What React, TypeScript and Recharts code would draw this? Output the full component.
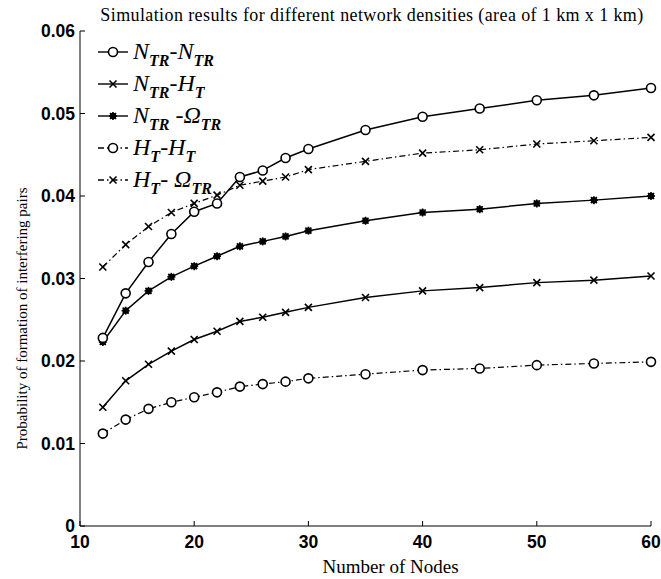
import React from "react";
import { Line, LineChart, XAxis, YAxis } from "recharts";

const nodes = [12, 14, 16, 18, 20, 22, 24, 26, 28, 30, 35, 40, 45, 50, 55, 60];
const ntrNtr = [0.0228, 0.0282, 0.032, 0.0354, 0.0381, 0.0391, 0.0423, 0.0431, 0.0446, 0.0457, 0.048, 0.0496, 0.0506, 0.0516, 0.0522, 0.0531];
const ntrHt = [0.0144, 0.0176, 0.0196, 0.0212, 0.0226, 0.0236, 0.0248, 0.0253, 0.0259, 0.0265, 0.0277, 0.0285, 0.0289, 0.0295, 0.0298, 0.0303];
const ntrOtr = [0.0223, 0.0261, 0.0285, 0.0302, 0.0315, 0.0327, 0.0339, 0.0345, 0.0351, 0.0358, 0.037, 0.038, 0.0384, 0.0391, 0.0395, 0.04];
const htHt = [0.0112, 0.0129, 0.0142, 0.015, 0.0156, 0.0162, 0.0169, 0.0172, 0.0175, 0.0179, 0.0184, 0.0189, 0.0191, 0.0195, 0.0197, 0.0199];
const htOtr = [0.0314, 0.0341, 0.0363, 0.038, 0.0391, 0.0401, 0.0413, 0.0418, 0.0423, 0.0432, 0.0442, 0.0452, 0.0456, 0.0463, 0.0467, 0.0471];

const xTicks = [10, 20, 30, 40, 50, 60];
const yTicks = [0, 0.01, 0.02, 0.03, 0.04, 0.05, 0.06];

const data = nodes.map((n, i) => ({
  n,
  nn: ntrNtr[i],
  nh: ntrHt[i],
  no: ntrOtr[i],
  hh: htHt[i],
  ho: htOtr[i],
}));

const SERIF = '"Liberation Serif", "Times New Roman", serif';
const TICK = { fontFamily: '"Liberation Sans", Arial, sans-serif', fontSize: 17.5, fontWeight: 700, fill: "#000" };
const DASHDOT = "6 3 1.5 3";

const Circle = ({ cx, cy }: any) => <circle cx={cx} cy={cy} r={4.5} fill="#fff" stroke="#000" strokeWidth={1.6} />;
const Cross = ({ cx, cy }: any) => (
  <g stroke="#000" strokeWidth={1.6}>
    <line x1={cx - 3.5} y1={cy - 3.5} x2={cx + 3.5} y2={cy + 3.5} />
    <line x1={cx - 3.5} y1={cy + 3.5} x2={cx + 3.5} y2={cy - 3.5} />
  </g>
);
const Star = ({ cx, cy }: any) => (
  <g stroke="#000" strokeWidth={1.6}>
    <line x1={cx - 4} y1={cy} x2={cx + 4} y2={cy} />
    <line x1={cx} y1={cy - 4} x2={cx} y2={cy + 4} />
    <line x1={cx - 3} y1={cy - 3} x2={cx + 3} y2={cy + 3} />
    <line x1={cx - 3} y1={cy + 3} x2={cx + 3} y2={cy - 3} />
    <circle cx={cx} cy={cy} r={2.4} fill="#000" />
  </g>
);

const dotOf = (M: any) => (p: any) => <M key={p.key ?? p.index} cx={p.cx} cy={p.cy} />;

const Sub = ({ children }: { children: string }) => (
  <span style={{ fontSize: 16, fontWeight: 700, position: "relative", top: 7 }}>{children}</span>
);

const legendRows = [
  { M: Circle, dash: undefined, label: <>N<Sub>TR</Sub>-N<Sub>TR</Sub></> },
  { M: Cross, dash: undefined, label: <>N<Sub>TR</Sub>-H<Sub>T</Sub></> },
  { M: Star, dash: undefined, label: <>N<Sub>TR</Sub> -Ω<Sub>TR</Sub></> },
  { M: Circle, dash: DASHDOT, label: <>H<Sub>T</Sub>-H<Sub>T</Sub></> },
  { M: Cross, dash: DASHDOT, label: <>H<Sub>T</Sub>- Ω<Sub>TR</Sub></> },
];

const yFmt = (v: number) => (v === 0 ? "0" : v.toFixed(2));

export default function App() {
  return (
    <div style={{ position: "relative", width: 661, height: 579 }}>
      <style>{"html{overflow:hidden} body{margin:0}"}</style>
      <LineChart width={661} height={579} data={data} margin={{ top: 31, right: 10, bottom: 0, left: 0 }}>
        <XAxis
          dataKey="n"
          type="number"
          domain={[10, 60]}
          ticks={xTicks}
          height={53}
          tick={TICK}
          tickSize={-5}
          tickMargin={15}
          stroke="#000"
          label={{ value: "Number of Nodes", position: "insideBottom", offset: 6, dx: 25, style: { fontFamily: SERIF, fontSize: 19, fill: "#000" } }}
        />
        <XAxis xAxisId="top" orientation="top" type="number" domain={[10, 60]} ticks={xTicks} height={0} tickSize={-5} tickFormatter={() => ""} stroke="#000" />
        <YAxis
          type="number"
          domain={[0, 0.06]}
          ticks={yTicks}
          width={80}
          tick={TICK}
          tickSize={-5}
          tickMargin={10}
          tickFormatter={yFmt}
          stroke="#000"
          label={{ value: "Probability of formation of interfering pairs", angle: -90, position: "center", dx: -18, dy: 40, style: { fontFamily: SERIF, fontSize: 15, fill: "#000" } }}
        />
        <YAxis yAxisId="right" orientation="right" type="number" domain={[0, 0.06]} ticks={yTicks} width={0} tickSize={-5} tickFormatter={() => ""} stroke="#000" />
        <Line dataKey="nh" stroke="#000" strokeWidth={1.5} dot={dotOf(Cross)} isAnimationActive={false} />
        <Line dataKey="no" stroke="#000" strokeWidth={1.5} dot={dotOf(Star)} isAnimationActive={false} />
        <Line dataKey="hh" stroke="#000" strokeWidth={1.2} strokeDasharray={DASHDOT} dot={dotOf(Circle)} isAnimationActive={false} />
        <Line dataKey="ho" stroke="#000" strokeWidth={1.2} strokeDasharray={DASHDOT} dot={dotOf(Cross)} isAnimationActive={false} />
        <Line dataKey="nn" stroke="#000" strokeWidth={1.5} dot={dotOf(Circle)} isAnimationActive={false} />
      </LineChart>
      <div
        style={{
          position: "absolute",
          zIndex: 2,
          left: 372,
          top: 5,
          transform: "translateX(-50%)",
          whiteSpace: "nowrap",
          fontFamily: SERIF,
          fontSize: 18,
          letterSpacing: 0.4,
          lineHeight: "20px",
        }}
      >
        Simulation results for different network densities (area of 1 km x 1 km)
      </div>
      {legendRows.map((r, i) => (
        <div
          key={i}
          style={{ position: "absolute", zIndex: 2, left: 97, top: 52 + i * 32 - 16, height: 32, display: "flex", alignItems: "center", whiteSpace: "nowrap" }}
        >
          <svg width={32} height={20}>
            <line x1={1} y1={10} x2={31} y2={10} stroke="#000" strokeWidth={1.4} strokeDasharray={r.dash} />
            <r.M cx={16} cy={10} />
          </svg>
          <span style={{ marginLeft: 4, fontFamily: SERIF, fontStyle: "italic", fontSize: 24, lineHeight: "22px" }}>{r.label}</span>
        </div>
      ))}
    </div>
  );
}
